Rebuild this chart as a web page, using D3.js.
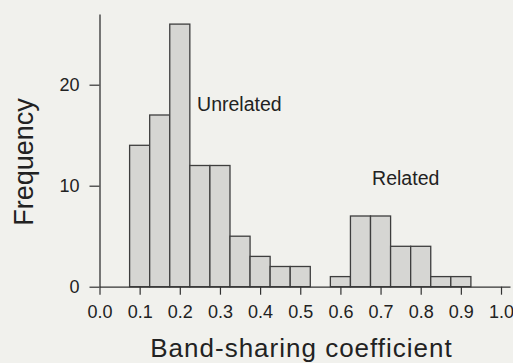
<!DOCTYPE html>
<html>
<head>
<meta charset="utf-8">
<script src="https://cdn.jsdelivr.net/npm/d3@7"></script>
<style>
  html, body { margin: 0; padding: 0; background: #f1f1ed; }
  svg { display: block; }
  text { font-family: "Liberation Sans", Arial, Helvetica, sans-serif; fill: #222; }
</style>
</head>
<body>
<svg id="chart" width="513" height="363"></svg>
<script>
// Histogram data (bin centres and counts)
const unrelatedBins = [0.10, 0.15, 0.20, 0.25, 0.30, 0.35, 0.40, 0.45, 0.50];
const unrelatedCounts = [14, 17, 26, 12, 12, 5, 3, 2, 2];
const relatedBins = [0.60, 0.65, 0.70, 0.75, 0.80, 0.85, 0.90];
const relatedCounts = [1, 7, 7, 4, 4, 1, 1];
const binWidth = 0.05;
const xTicks = [0.0, 0.1, 0.2, 0.3, 0.4, 0.5, 0.6, 0.7, 0.8, 0.9, 1.0];
const yTicks = [0, 10, 20];
const groupLabels = [
  { text: "Unrelated", x: 0.243, y: 17.4 },
  { text: "Related", x: 0.679, y: 10.1 }
];

const svg = d3.select("#chart");
const x = d3.scaleLinear().domain([0, 1.0224]).range([99.5, 510]);
const y = d3.scaleLinear().domain([0, 27]).range([286.7, 14]);

const bars = unrelatedBins.map((b, i) => ({ c: b, v: unrelatedCounts[i] }))
  .concat(relatedBins.map((b, i) => ({ c: b, v: relatedCounts[i] })));

svg.append("g").selectAll("rect").data(bars).join("rect")
  .attr("x", d => x(d.c - binWidth / 2))
  .attr("y", d => y(d.v))
  .attr("width", d => x(d.c + binWidth / 2) - x(d.c - binWidth / 2))
  .attr("height", d => y(0) - y(d.v))
  .attr("fill", "#d6d6d3")
  .attr("stroke", "#3e3e3e")
  .attr("stroke-width", 1.3);

// X axis
const xAxis = svg.append("g")
  .attr("transform", `translate(0,${y(0)})`)
  .call(d3.axisBottom(x).tickValues(xTicks).tickFormat(d3.format(".1f")).tickSize(8).tickSizeOuter(0));
xAxis.select(".domain").attr("stroke", "#333").attr("stroke-width", 1.3);
xAxis.selectAll(".tick line").attr("stroke", "#333").attr("stroke-width", 1.2);
xAxis.selectAll(".tick text")
  .attr("y", 31.3).attr("dy", null)
  .style("font-size", "18px")
  .style("font-family", "'Liberation Sans', Arial, sans-serif")
  .attr("fill", "#222");

// Y axis
const yAxis = svg.append("g")
  .attr("transform", `translate(${x(0)},0)`)
  .call(d3.axisLeft(y).tickValues(yTicks).tickSize(10).tickPadding(10).tickSizeOuter(0));
yAxis.select(".domain").attr("stroke", "#333").attr("stroke-width", 1.3);
yAxis.selectAll(".tick line").attr("stroke", "#333").attr("stroke-width", 1.2);
yAxis.selectAll(".tick text")
  .style("font-size", "18px")
  .style("font-family", "'Liberation Sans', Arial, sans-serif")
  .attr("fill", "#222");

// Group labels
svg.append("g").selectAll("text").data(groupLabels).join("text")
  .attr("x", d => x(d.x))
  .attr("y", d => y(d.y))
  .attr("text-anchor", "start")
  .style("font-size", "19.5px")
  .text(d => d.text);

// Axis titles
svg.append("text")
  .attr("x", 301.5).attr("y", 356.5)
  .attr("text-anchor", "middle")
  .style("font-size", "26px")
  .style("letter-spacing", "1px")
  .text("Band-sharing coefficient");

svg.append("text")
  .attr("transform", "translate(33,162) rotate(-90)")
  .attr("text-anchor", "middle")
  .style("font-size", "27px")
  .text("Frequency");
</script>
</body>
</html>
